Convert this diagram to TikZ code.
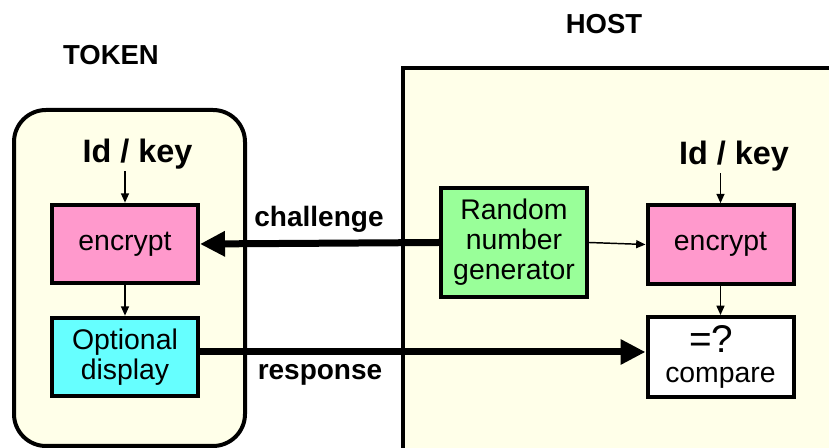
\documentclass[tikz,border=0pt]{standalone}
\usepackage{fontspec}
\setmainfont{Liberation Sans}
\usetikzlibrary{arrows.meta}
\definecolor{cream}{HTML}{FFFFE9}
\definecolor{pinkbox}{HTML}{FF99CC}
\definecolor{cyanbox}{HTML}{66FFFF}
\definecolor{greenbox}{HTML}{99FF99}
\tikzstyle{boxframe}=[draw,line width=3pt,fill=cream]
\tikzstyle{block}=[draw,line width=3pt,minimum width=109.5pt,minimum height=59pt,inner sep=2pt,align=center,font=\fontsize{21.3}{22.5}\selectfont]
\tikzstyle{sidelabel}=[font=\fontsize{20.6}{24}\selectfont\bfseries]
\tikzstyle{keylabel}=[font=\fontsize{24.3}{28}\selectfont\bfseries,inner sep=1pt,anchor=base]
\tikzstyle{msg}=[font=\fontsize{21}{24}\selectfont\bfseries,anchor=base]
\tikzstyle{link}=[draw,line width=1.1pt,-{Triangle[length=7pt,width=6pt]}]
\tikzstyle{channel}=[draw,line width=5.25pt,-{Triangle[length=18.75pt,width=18pt]}]

\begin{document}
\begin{tikzpicture}[x=0.75pt,y=-0.75pt]
  \useasboundingbox (0,0) rectangle (829,448);
  \clip (0,0) rectangle (829,448);
    % The two sides first
    \draw[boxframe,line width=2.5pt] (403,68) rectangle (850,470);
    \draw[boxframe,rounded corners=24pt] (14,110) rectangle (245,446);
    \node[sidelabel] (token) at (111,55) {TOKEN};
    \node[sidelabel] (host) at (604,24) {HOST};
    \node[keylabel] (tid) at (137.5,163) {Id / key};
    \node[keylabel] (hid) at (734,165) {Id / key};
    % Then the blocks on each side
    \foreach \pos/\name/\colour/\text in {{(125,244)/tenc/pinkbox/encrypt},
                                          {(125,357)/tdisp/cyanbox/{Optional\\display}},
                                          {(720.5,244.5)/henc/pinkbox/encrypt}}
        \node[block,fill=\colour] (\name) at \pos {\text};
    \node[block,fill=greenbox,minimum height=81.75pt,text width=100pt] (rng) at (514,242.5)
        {Random\\number\\generator};
    \node[block,fill=white,minimum height=60pt] (cmp) at (720.5,357)
        {{\fontsize{29}{29}\selectfont =?\hspace*{14pt}}\\compare};
    % Thin arrows inside the token and the host
    \path[link] (tenc.north |- tid.south) -- (tenc.north);
    \path[link] (henc.north |- hid.south) -- (henc.north);
    \foreach \source/\dest in {tenc/tdisp,henc/cmp}
        \path[link] (\source.south) -- (\dest.north);
    \path[link] (rng.east) -- (henc.west);
    % Challenge and response between them
    \path[channel] (rng.west) -- (tenc.east);
    \path[channel] ([yshift=3.75pt]tdisp.east) -- ([yshift=3.75pt]cmp.west);
    \node[msg] (challenge) at (319,227) {challenge};
    \node[msg] (response) at (320,380) {response};
\end{tikzpicture}
\end{document}
